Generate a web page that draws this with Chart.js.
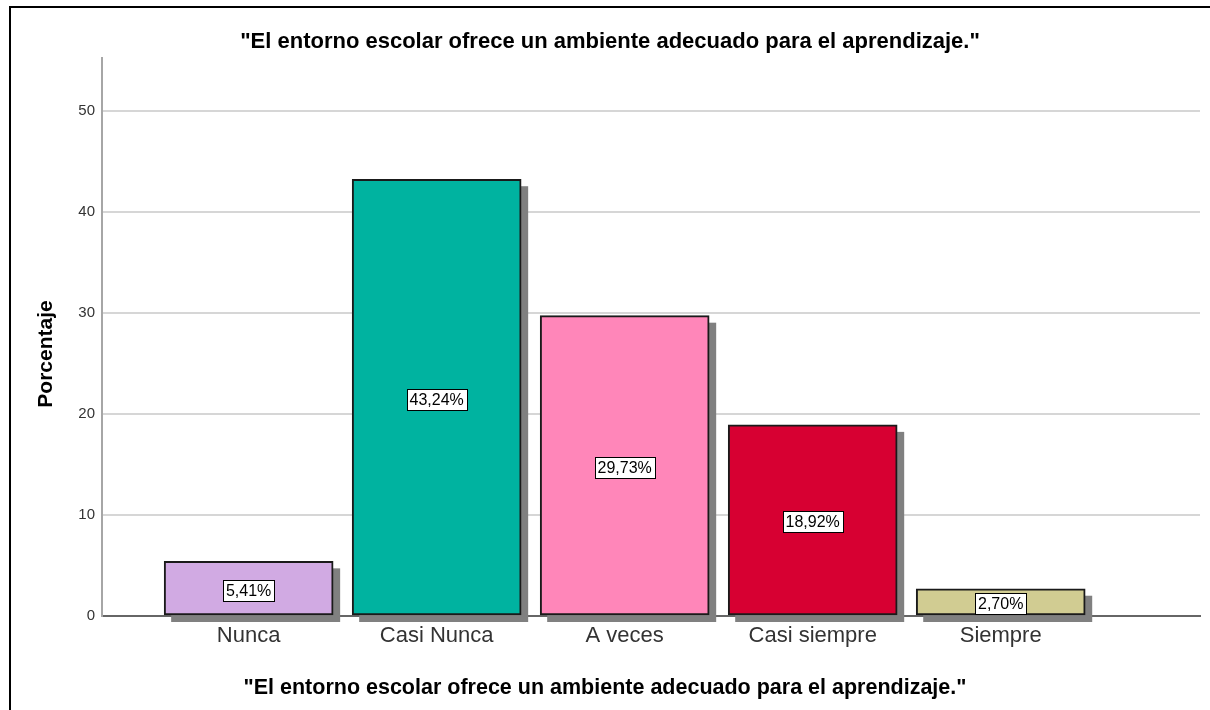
<!DOCTYPE html>
<html>
<head>
<meta charset="utf-8">
<script src="https://cdn.jsdelivr.net/npm/chart.js@4.4.0/dist/chart.umd.min.js"></script>
<style>
    body { margin: 0; background: #fff; }
    #wrap { position: relative; width: 1210px; height: 710px; }
    #frame { position: absolute; left: 9px; top: 6px; right: 0; bottom: 0; border-top: 2px solid #000; border-left: 2px solid #000; pointer-events: none; }
</style>
</head>
<body>
<div id="wrap">
    <canvas id="chart" width="1210" height="710"></canvas>
    <div id="frame"></div>
</div>
<script>
"use strict";

const categories = ['Nunca', 'Casi Nunca', 'A veces', 'Casi siempre', 'Siempre'];
const percents = [5.41, 43.24, 29.73, 18.92, 2.70];
const pctLabels = ['5,41%', '43,24%', '29,73%', '18,92%', '2,70%'];
const barColors = ['#d1aae3', '#00b3a0', '#ff86b9', '#d70032', '#d1cc92'];
const titleText = '"El entorno escolar ofrece un ambiente adecuado para el aprendizaje."';
const yTitle = 'Porcentaje';

const FONT = "'Liberation Sans', Arial, sans-serif";

// grey drop shadow behind bars, value boxes on top, axis titles
const barDecor = {
    id: 'barDecor',
    beforeDatasetsDraw(chart) {
        const ctx = chart.ctx;
        ctx.save();
        ctx.fillStyle = '#808080';
        chart.getDatasetMeta(0).data.forEach((bar) => {
            const left = bar.x - bar.width / 2;
            ctx.fillRect(left + 7, bar.y + 7, bar.width, bar.base - bar.y);
        });
        ctx.restore();
    },
    afterDatasetsDraw(chart) {
        const ctx = chart.ctx;
        ctx.save();
        ctx.font = '16px ' + FONT;
        ctx.textAlign = 'center';
        ctx.textBaseline = 'middle';
        chart.getDatasetMeta(0).data.forEach((bar, i) => {
            const txt = pctLabels[i];
            const w = Math.round(ctx.measureText(txt).width + 6);
            const h = 21;
            const cx = bar.x;
            const cy = (bar.y + bar.base) / 2 + 2;
            const bx = Math.round(cx - w / 2) + 0.5;
            const by = Math.round(cy - h / 2) + 0.5;
            ctx.fillStyle = '#fff';
            ctx.fillRect(bx, by, w, h);
            ctx.strokeStyle = '#000';
            ctx.lineWidth = 1;
            ctx.strokeRect(bx, by, w, h);
            ctx.fillStyle = '#000';
            ctx.fillText(txt, cx, cy + 1);
        });
        ctx.restore();
    },
    afterDraw(chart) {
        const ctx = chart.ctx;
        ctx.save();
        ctx.fillStyle = '#000';
        ctx.textAlign = 'center';
        ctx.textBaseline = 'middle';
        ctx.font = 'bold 21.5px ' + FONT;
        ctx.fillText(titleText, 605, 688);
        ctx.translate(46, 354);
        ctx.rotate(-Math.PI / 2);
        ctx.font = 'bold 21px ' + FONT;
        ctx.fillText(yTitle, 0, 0);
        ctx.restore();
    }
};

new Chart(document.getElementById('chart'), {
    type: 'bar',
    data: {
        datasets: [{
            data: percents.map((v, i) => ({x: i, y: v})),
            backgroundColor: barColors,
            borderColor: '#1a1a1a',
            borderWidth: 2,
            borderSkipped: false,
            barThickness: 169,
            clip: false
        }]
    },
    options: {
        responsive: false,
        animation: false,
        devicePixelRatio: 1,
        layout: {padding: {top: 0, left: 20, right: 10, bottom: 0}},
        plugins: {
            legend: {display: false},
            tooltip: {enabled: false},
            title: {
                display: true,
                text: titleText,
                color: '#000',
                font: {family: FONT, size: 22, weight: 'bold'},
                padding: {top: 29, bottom: 3}
            }
        },
        scales: {
            x: {
                type: 'linear',
                min: -0.78,
                max: 5.06,
                offset: false,
                afterBuildTicks: (scale) => {
                    scale.ticks = categories.map((c, i) => ({value: i}));
                },
                afterFit: (scale) => { scale.height = 94; },
                ticks: {
                    autoSkip: false,
                    maxRotation: 0,
                    padding: 7,
                    color: '#333',
                    font: {family: FONT, size: 22},
                    callback: (v) => categories[v]
                },
                grid: {display: false, drawTicks: false},
                border: {display: true, color: '#666', width: 2}
            },
            y: {
                min: 0,
                max: 55.2,
                afterFit: (scale) => { scale.width = 82; },
                ticks: {
                    stepSize: 10,
                    includeBounds: false,
                    padding: 7,
                    color: '#333',
                    font: {family: FONT, size: 15}
                },
                grid: {color: '#d6d6d6', lineWidth: 2, drawTicks: false},
                border: {display: true, color: '#a6a6a6', width: 2}
            }
        }
    },
    plugins: [barDecor]
});
</script>
</body>
</html>
